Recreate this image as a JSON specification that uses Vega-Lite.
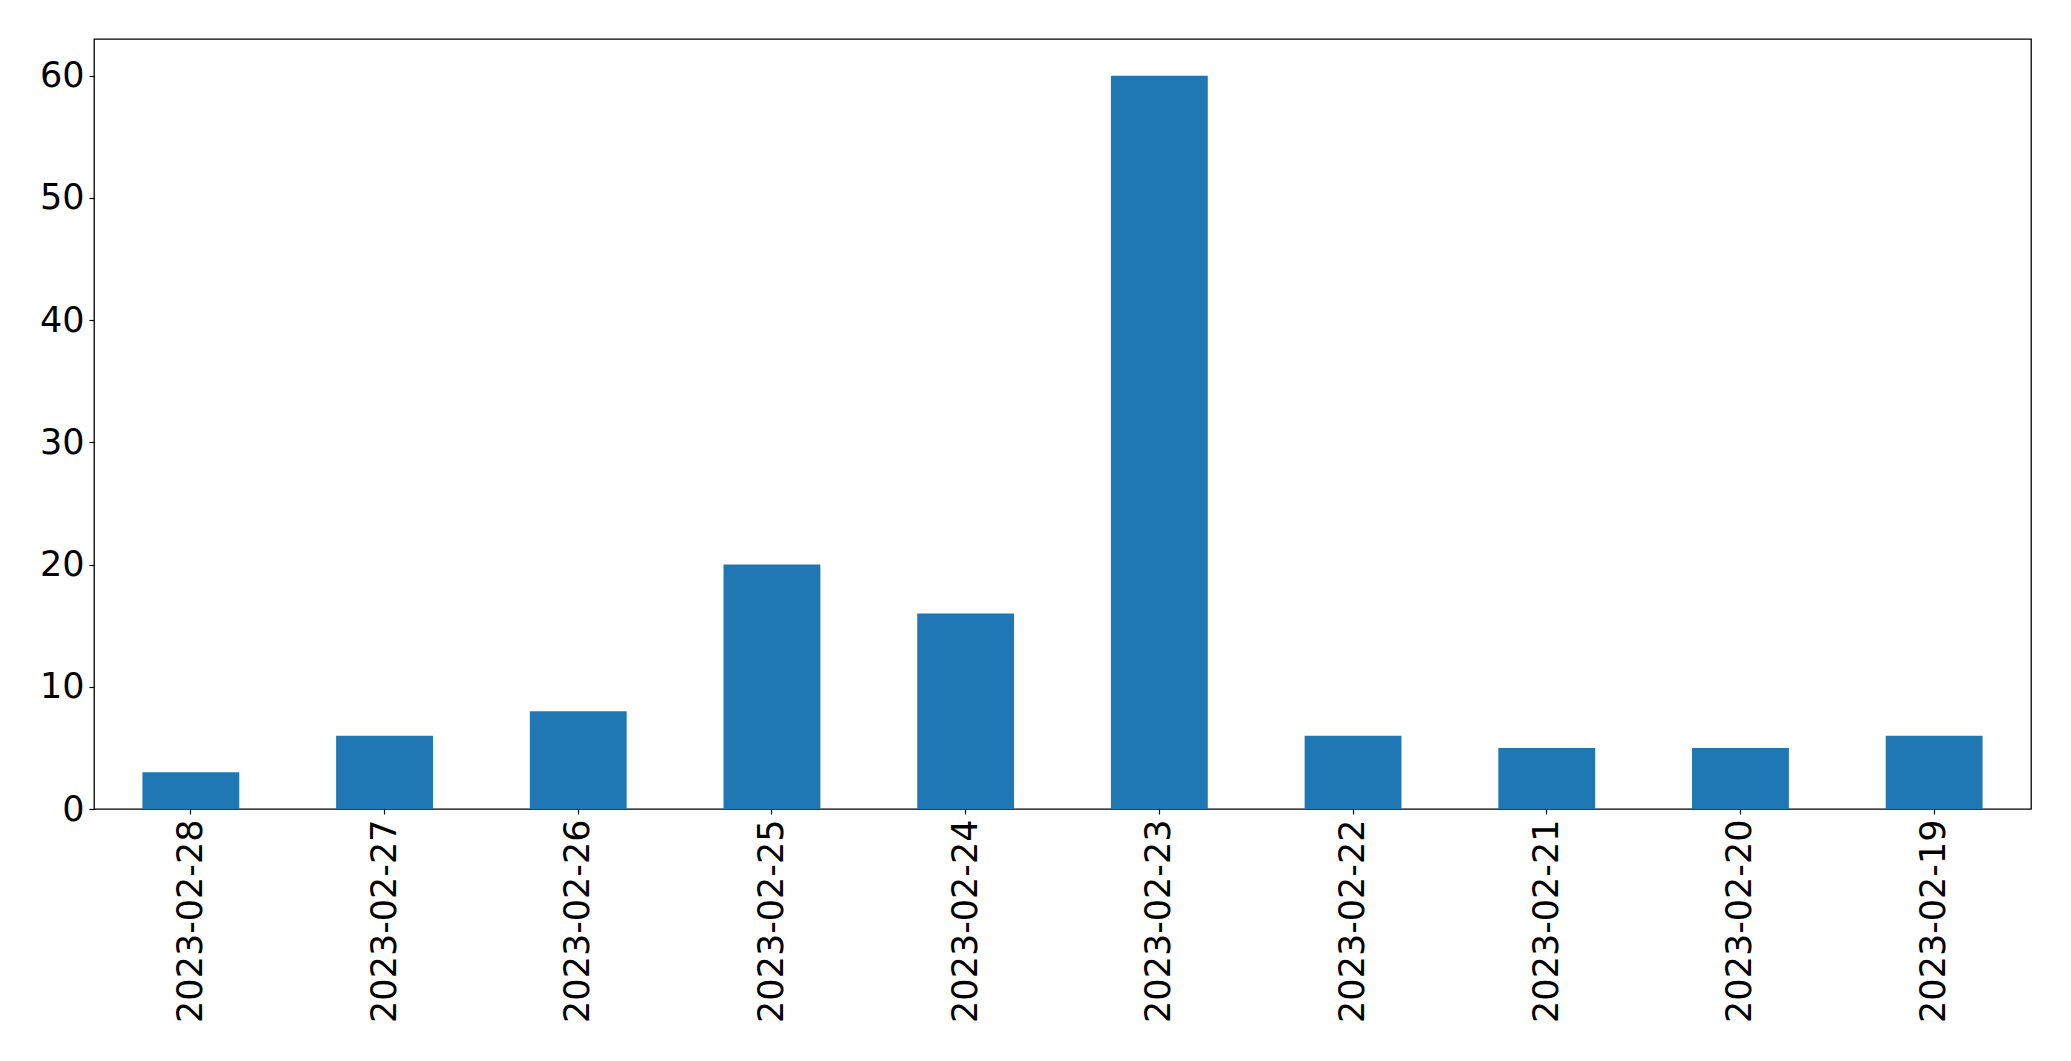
{
  "$schema": "https://vega.github.io/schema/vega-lite/v6.json",
  "width": 1937,
  "height": 770,
  "autosize": {"type": "none"},
  "padding": {"left": 94, "top": 39, "right": 40, "bottom": 252},
  "background": "white",
  "config": {
    "view": {"stroke": "black", "strokeWidth": 1.3, "strokeOpacity": 1},
    "font": "DejaVu Sans"
  },
  "data": {
    "values": [
      {"date": "2023-02-28", "count": 3},
      {"date": "2023-02-27", "count": 6},
      {"date": "2023-02-26", "count": 8},
      {"date": "2023-02-25", "count": 20},
      {"date": "2023-02-24", "count": 16},
      {"date": "2023-02-23", "count": 60},
      {"date": "2023-02-22", "count": 6},
      {"date": "2023-02-21", "count": 5},
      {"date": "2023-02-20", "count": 5},
      {"date": "2023-02-19", "count": 6}
    ]
  },
  "mark": {"type": "bar", "color": "#1f77b4"},
  "encoding": {
    "x": {
      "field": "date",
      "type": "nominal",
      "sort": null,
      "scale": {"paddingInner": 0.5, "paddingOuter": 0.25},
      "axis": {
        "title": null,
        "domain": false,
        "labelAngle": -90,
        "labelAlign": "right",
        "labelBaseline": "middle",
        "labelFont": "DejaVu Sans",
        "labelFontSize": 35,
        "labelColor": "black",
        "labelPadding": 5,
        "labelLimit": 0,
        "tickSize": 5,
        "tickColor": "black",
        "tickWidth": 1.2
      }
    },
    "y": {
      "field": "count",
      "type": "quantitative",
      "scale": {"domain": [0, 63], "nice": false},
      "axis": {
        "title": null,
        "domain": false,
        "grid": false,
        "values": [0, 10, 20, 30, 40, 50, 60],
        "labelFont": "DejaVu Sans",
        "labelFontSize": 35,
        "labelColor": "black",
        "labelPadding": 5,
        "labelLimit": 0,
        "tickSize": 5,
        "tickColor": "black",
        "tickWidth": 1.2
      }
    }
  }
}
